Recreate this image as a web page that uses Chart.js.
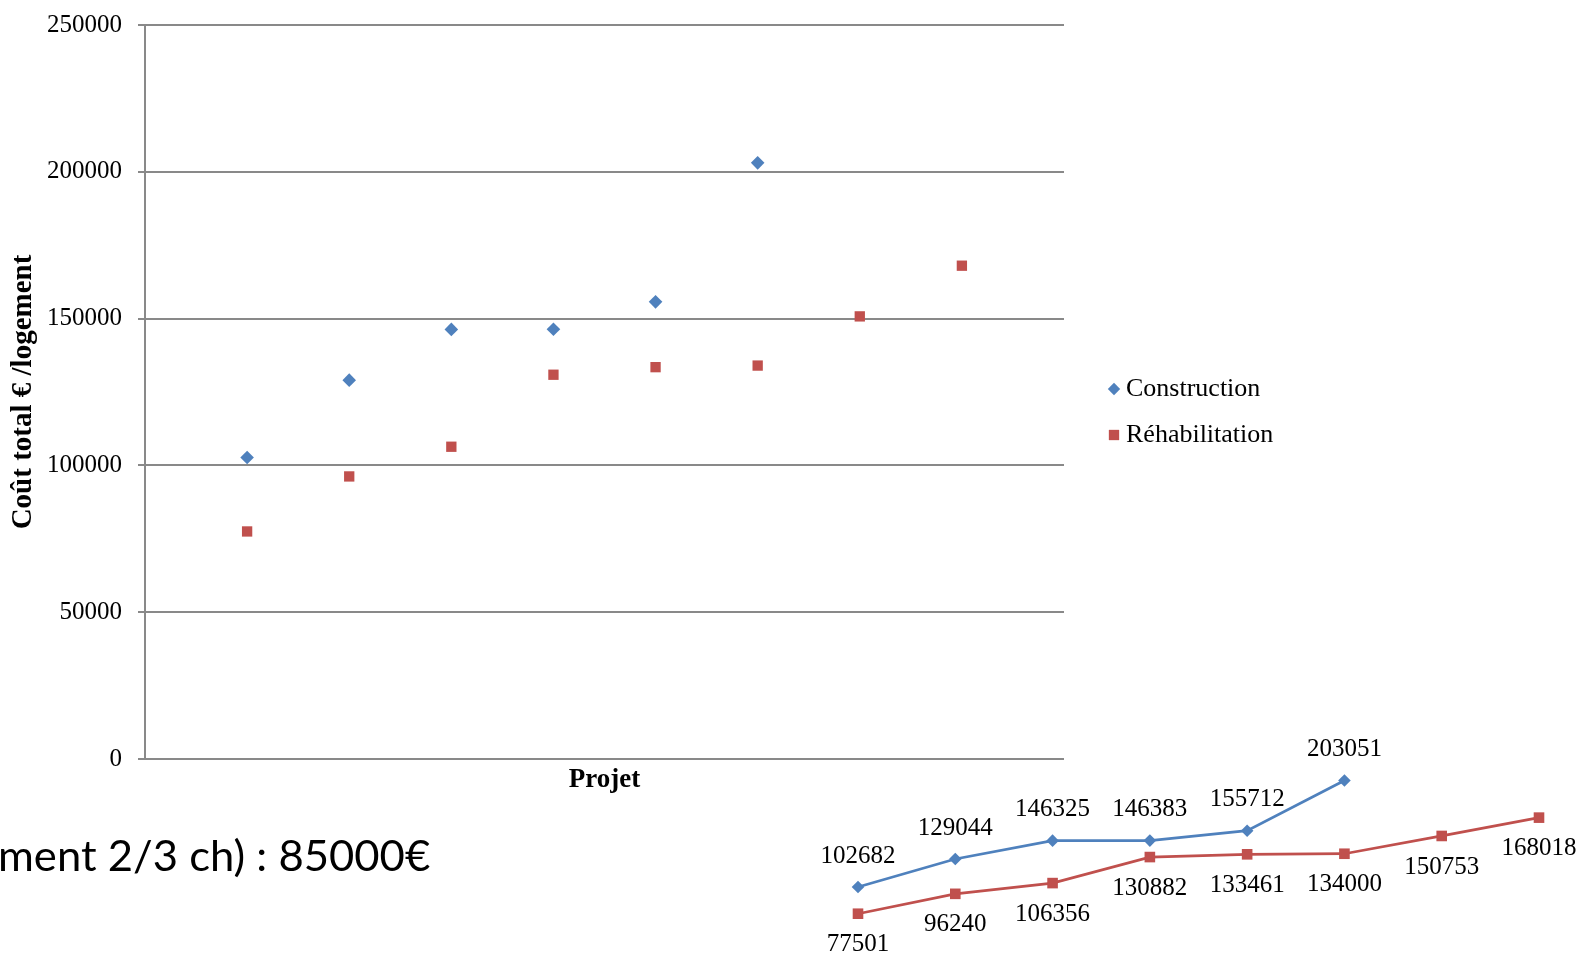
<!DOCTYPE html>
<html>
<head>
<meta charset="utf-8">
<script src="https://cdn.jsdelivr.net/npm/chart.js@4.4.1/dist/chart.umd.min.js"></script>
<style>
html,body{margin:0;padding:0;background:#fff;overflow:hidden;width:1581px;height:955px;position:relative}
#main{position:absolute;left:0;top:0}
#mini{position:absolute;left:780px;top:700px}
#note{position:absolute;right:1151px;top:830px;white-space:nowrap;font-family:Lato,"Open Sans",sans-serif;font-size:43px;line-height:1;color:#000;transform-origin:right center}
#bl{display:inline-block;width:0;height:0;vertical-align:baseline}
</style>
</head>
<body>
<canvas id="main" width="1581" height="955"></canvas>
<canvas id="mini" width="801" height="320"></canvas>
<div id="note"><span id="noteText"></span><span id="bl"></span></div>
<script>
// ---- data ----
const projects = [1, 2, 3, 4, 5, 6, 7, 8];
const construction = [102682, 129044, 146325, 146383, 155712, 203051];
const rehabilitation = [77501, 96240, 106356, 130882, 133461, 134000, 150753, 168018];
const yTicks = [0, 50000, 100000, 150000, 200000, 250000];
const seriesNames = ['Construction', 'Réhabilitation'];
const yTitle = 'Coût total € /logement';
const xTitle = 'Projet';
const noteText = 'ment 2/3 ch) : 85000€';

// ---- styles ----
const BLUE = '#4F81BD';
const RED = '#C0504D';
const GRID = '#898989';
const SERIF = '"Liberation Serif", "DejaVu Serif", serif';

function toPoints(vals) {
  return vals.map((v, i) => ({ x: projects[i], y: v }));
}

const legendPlugin = {
  id: 'customLegend',
  afterDraw(chart) {
    const ctx = chart.ctx;
    const rows = [389, 435];
    ctx.save();
    chart.data.datasets.forEach((ds, i) => {
      const y = rows[i];
      ctx.fillStyle = ds.backgroundColor;
      ctx.strokeStyle = ds.backgroundColor;
      Chart.helpers.drawPoint(ctx, {
        pointStyle: ds.pointStyle,
        radius: ds.pointStyle === 'rect' ? 7.3 : 6.2,
        rotation: 0,
        borderWidth: 0
      }, 1114, y);
      ctx.fillStyle = '#000';
      ctx.font = '26px ' + SERIF;
      ctx.textAlign = 'left';
      ctx.textBaseline = 'middle';
      ctx.fillText(ds.label, 1126, y);
    });
    ctx.restore();
  }
};

new Chart(document.getElementById('main'), {
  type: 'scatter',
  data: {
    datasets: [
      { label: seriesNames[0], data: toPoints(construction), pointStyle: 'rectRot', pointRadius: 6.8,
        backgroundColor: BLUE, borderColor: BLUE, pointBorderWidth: 0, showLine: false },
      { label: seriesNames[1], data: toPoints(rehabilitation), pointStyle: 'rect', pointRadius: 7.3,
        backgroundColor: RED, borderColor: RED, pointBorderWidth: 0, showLine: false }
    ]
  },
  options: {
    responsive: false,
    animation: false,
    devicePixelRatio: 1,
    layout: { padding: { left: 0, top: 25, right: 517, bottom: 0 } },
    plugins: { legend: { display: false }, tooltip: { enabled: false } },
    scales: {
      x: {
        type: 'linear', min: 0, max: projects.length + 1, position: 'bottom',
        ticks: { display: false },
        grid: { display: false, drawTicks: false },
        border: { display: false },
        title: { display: true, text: xTitle, color: '#000',
          font: { family: SERIF, size: 27, weight: 'bold' },
          padding: { top: 0, bottom: 158.8 } },
        afterFit(s) { s.height = 196; s.paddingLeft = 0; s.paddingRight = 0; }
      },
      y: {
        type: 'linear', position: 'left',
        min: yTicks[0], max: yTicks[yTicks.length - 1],
        afterBuildTicks(s) { s.ticks = yTicks.map(v => ({ value: v })); },
        ticks: { font: { family: SERIF, size: 25 }, color: '#000', padding: 16,
          callback: v => String(v) },
        grid: { color: GRID, lineWidth: 2, tickLength: 7, drawTicks: true },
        border: { display: true, color: GRID, width: 2 },
        title: { display: true, text: yTitle, color: '#000',
          font: { family: SERIF, size: 29, weight: 'bold' },
          padding: { top: 6.6, bottom: 0 } },
        afterFit(s) { s.width = 145; s.paddingTop = 0; s.paddingBottom = 0; }
      }
    }
  },
  plugins: [legendPlugin]
});

const labelPlugin = {
  id: 'valueLabels',
  afterDatasetsDraw(chart) {
    const ctx = chart.ctx;
    ctx.save();
    ctx.font = '25px ' + SERIF;
    ctx.fillStyle = '#000';
    ctx.textAlign = 'center';
    ctx.textBaseline = 'middle';
    chart.data.datasets.forEach((ds, di) => {
      const meta = chart.getDatasetMeta(di);
      const off = di === 0 ? -31 : 31;
      meta.data.forEach((el, i) => {
        ctx.fillText(String(ds.data[i].y), el.x, el.y + off);
      });
    });
    ctx.restore();
  }
};

new Chart(document.getElementById('mini'), {
  type: 'line',
  data: {
    datasets: [
      { label: seriesNames[0], data: toPoints(construction), borderColor: BLUE, backgroundColor: BLUE,
        borderWidth: 2.75, pointStyle: 'rectRot', pointRadius: 6.3, pointBorderWidth: 0, tension: 0, clip: false },
      { label: seriesNames[1], data: toPoints(rehabilitation), borderColor: RED, backgroundColor: RED,
        borderWidth: 2.75, pointStyle: 'rect', pointRadius: 7.5, pointBorderWidth: 0, tension: 0, clip: false }
    ]
  },
  options: {
    responsive: false,
    animation: false,
    devicePixelRatio: 1,
    layout: { padding: { left: 78, right: 42, top: 30.6, bottom: 24 } },
    plugins: { legend: { display: false }, tooltip: { enabled: false } },
    scales: {
      x: { type: 'linear', min: projects[0], max: projects[projects.length - 1], display: false },
      y: { type: 'linear', min: yTicks[0], max: yTicks[yTicks.length - 1], display: false }
    }
  },
  plugins: [labelPlugin]
});

// bottom text fragment
const note = document.getElementById('note');
document.getElementById('noteText').textContent = noteText;
const w = note.offsetWidth;
note.style.transform = 'scaleX(' + (432 / w) + ')';
const bl = document.getElementById('bl');
const baseOff = bl.offsetTop;
note.style.top = (871 - baseOff) + 'px';
</script>
</body>
</html>
